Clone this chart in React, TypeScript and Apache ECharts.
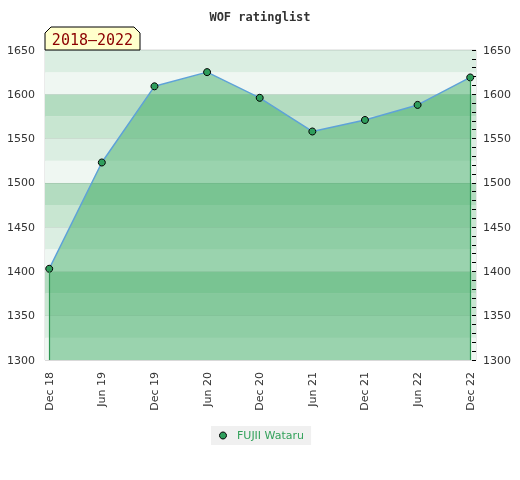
import React, { useEffect, useRef } from "react";
import * as echarts from "echarts";

const xLabels = ["Dec 18", "Jun 19", "Dec 19", "Jun 20", "Dec 20", "Jun 21", "Dec 21", "Jun 22", "Dec 22"];
const ratings = [1403, 1523, 1609, 1625, 1596, 1558, 1571, 1588, 1619];
const yMin = 1300;
const yMax = 1650;
const yStep = 50;
const bandStep = 25;
const bandColors = ["#eff7f2", "#dbeee2", "#c8e6d1", "#b3dcc0"];
const seriesName = "FUJII Wataru";
const titleText = "WOF ratinglist";
const badgeText = "2018–2022";

export default function App() {
  const ref = useRef<HTMLDivElement>(null);
  useEffect(() => {
    if (!ref.current) return;
    const chart = echarts.init(ref.current, undefined, { renderer: "svg" });
    const last = ratings.length - 1;
    const data = ratings.map((v, i) => [i, v]);
    const labelFont = { fontFamily: "DejaVu Sans", fontSize: 11, color: "#333" };
    chart.setOption({
      animation: false,
      title: {
        text: titleText,
        left: "center",
        top: 6,
        textStyle: { fontFamily: "DejaVu Sans Mono", fontWeight: "bold", fontSize: 12, color: "#333" },
      },
      grid: {
        left: 45,
        right: 44,
        top: 50,
        bottom: 120,
        show: true,
        borderColor: "#d6d6d6",
        borderWidth: 1,
        backgroundColor: "transparent",
      },
      legend: {
        left: 211,
        top: 426,
        padding: [4, 7, 4, 8],
        backgroundColor: "#f0f0f0",
        itemWidth: 18,
        itemHeight: 7,
        textStyle: { fontFamily: "DejaVu Sans", fontSize: 11, color: "#33a25b" },
        data: [
          {
            name: seriesName,
            icon: "circle",
            itemStyle: { color: "#2f9e5c", borderColor: "#000", borderWidth: 1 },
          },
        ],
      },
      xAxis: {
        type: "value",
        min: -0.08,
        max: last + 0.11,
        splitLine: { show: false },
        axisLine: { show: false },
        axisTick: { show: false },
        axisLabel: {
          ...labelFont,
          customValues: xLabels.map((_, i) => i),
          rotate: 90,
          margin: 12,
          formatter: (v: number) => xLabels[Math.round(v)] ?? "",
        },
      },
      yAxis: [
        {
          type: "value",
          position: "left",
          min: yMin,
          max: yMax,
          interval: bandStep,
          axisLabel: { show: false },
          axisLine: { show: false },
          axisTick: { show: false },
          splitLine: { show: false },
          splitArea: { show: true, areaStyle: { color: bandColors, opacity: 1 } },
        },
        {
          type: "value",
          position: "left",
          min: yMin,
          max: yMax,
          interval: yStep,
          axisLabel: { ...labelFont, margin: 10, formatter: (v: number) => String(v) },
          axisLine: { show: false },
          axisTick: { show: false },
          splitLine: { show: true, lineStyle: { color: "rgba(0,0,0,0.07)", width: 1 } },
        },
        {
          type: "value",
          position: "right",
          min: yMin,
          max: yMax,
          interval: yStep,
          axisLabel: { ...labelFont, margin: 7, formatter: (v: number) => String(v) },
          axisLine: { show: false },
          axisTick: { show: true, inside: true, length: 4, lineStyle: { color: "#000" } },
          minorTick: { show: true, splitNumber: 5, length: 4, lineStyle: { color: "#000" } },
          splitLine: { show: false },
        },
      ],
      series: [
        {
          name: seriesName,
          type: "line",
          yAxisIndex: 1,
          data,
          symbol: "circle",
          symbolSize: 7,
          itemStyle: { color: "#2f9e5c", borderColor: "#000", borderWidth: 1 },
          lineStyle: { color: "#5ea2d8", width: 1.5 },
          areaStyle: { color: "rgb(52,167,91)", opacity: 0.45, origin: "start" },
          markLine: {
            silent: true,
            symbol: ["none", "none"],
            label: { show: false },
            lineStyle: { color: "#2e9552", width: 1.2, type: "solid", opacity: 1 },
            emphasis: { disabled: true },
            data: [
              [{ coord: [0, yMin] }, { coord: [0, ratings[0]] }],
              [{ coord: [last, yMin] }, { coord: [last, ratings[last]] }],
            ],
          },
        },
      ],
      graphic: [
        {
          type: "polygon",
          shape: {
            points: [
              [45, 50],
              [45, 33],
              [51, 27],
              [134, 27],
              [140, 33],
              [140, 50],
            ],
          },
          style: { fill: "#ffffcc", stroke: "#000", lineWidth: 1 },
          z: 10,
        },
        {
          type: "text",
          x: 92.5,
          y: 39.5,
          style: {
            text: badgeText,
            fontFamily: "DejaVu Sans Mono",
            fontSize: 15,
            fill: "#8b0000",
            align: "center",
            verticalAlign: "middle",
          },
          z: 11,
        },
      ],
    });
    return () => chart.dispose();
  }, []);
  return <div ref={ref} style={{ position: "fixed", left: 0, top: 0, width: 520, height: 480 }} />;
}
